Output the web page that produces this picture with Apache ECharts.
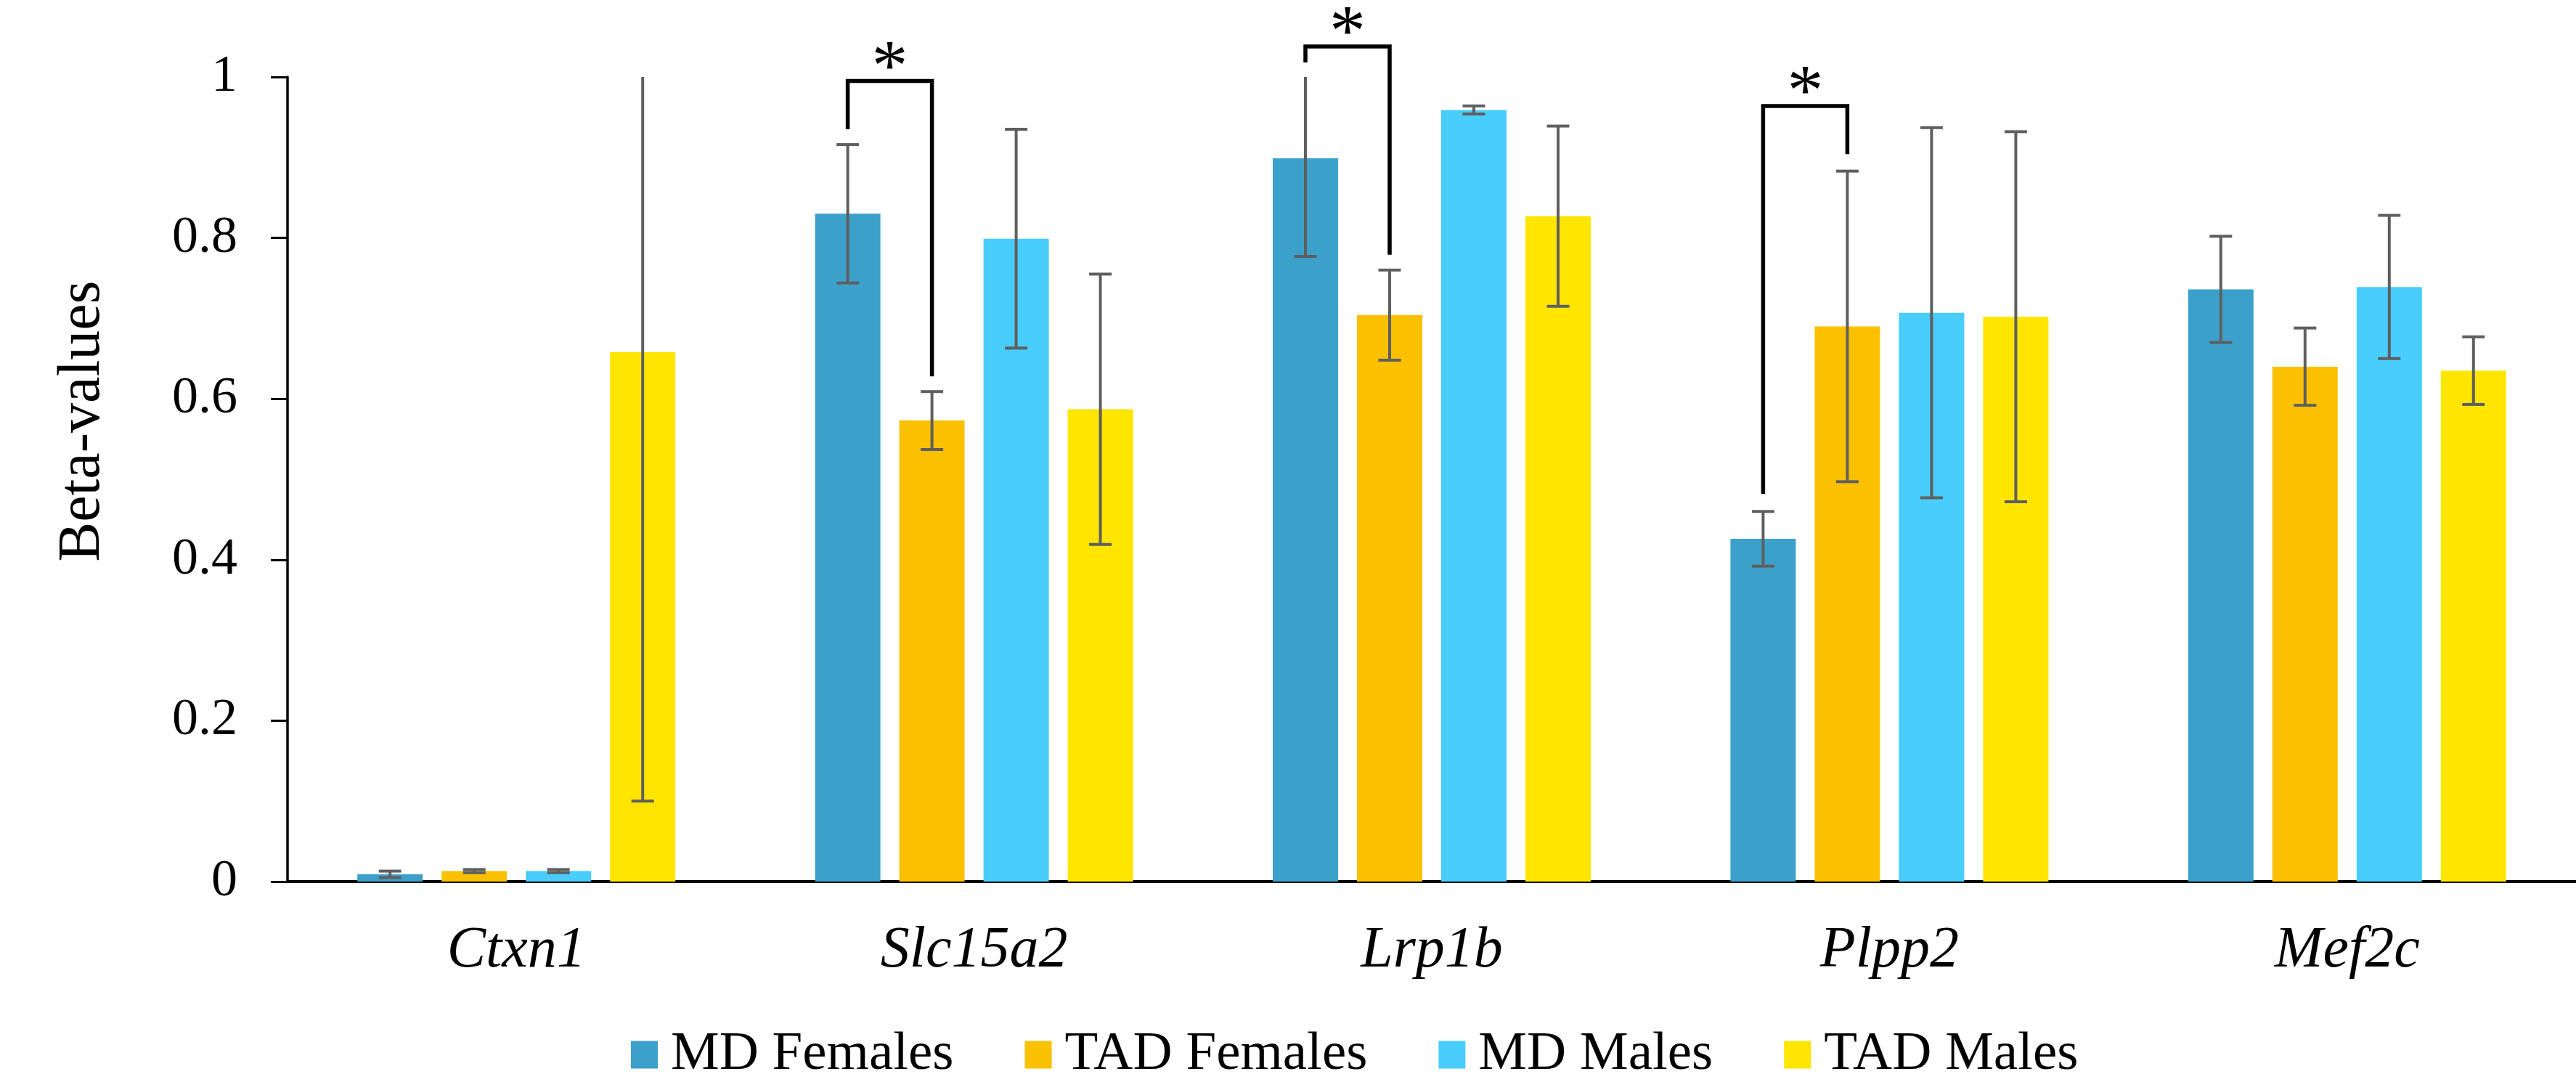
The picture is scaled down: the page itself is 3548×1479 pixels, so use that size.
<!DOCTYPE html>
<html>
<head>
<meta charset="utf-8">
<script src="https://cdn.jsdelivr.net/npm/echarts@6/dist/echarts.min.js"></script>
<style>
html,body{margin:0;padding:0;background:#fff;}
#chart{width:3548px;height:1479px;}
</style>
</head>
<body>
<div id="chart"></div>
<script>
// ---- data ----
const categories = ['Ctxn1', 'Slc15a2', 'Lrp1b', 'Plpp2', 'Mef2c'];
const seriesNames = ['MD Females', 'TAD Females', 'MD Males', 'TAD Males'];
const mdFemales   = [0.009, 0.830, 0.899, 0.426, 0.736];
const mdFemalesSD = [0.004, 0.086, 0.122, 0.034, 0.066];
const tadFemales   = [0.013, 0.573, 0.704, 0.690, 0.640];
const tadFemalesSD = [0.002, 0.036, 0.056, 0.193, 0.048];
const mdMales   = [0.013, 0.799, 0.959, 0.707, 0.739];
const mdMalesSD = [0.002, 0.136, 0.005, 0.230, 0.089];
const tadMales   = [0.658, 0.587, 0.827, 0.702, 0.635];
const tadMalesSD = [0.558, 0.168, 0.112, 0.230, 0.042];
const yTicks = [0, 0.2, 0.4, 0.6, 0.8, 1];

// significance brackets: category index, left/right series index, top level, left leg end, right leg end
const bracketCats       = [1, 2, 3];
const bracketLeftSeries = [0, 0, 0];
const bracketRightSeries= [1, 1, 1];
const bracketTop        = [0.995, 1.038, 0.964];
const bracketLeftEnd    = [0.935, 1.018, 0.482];
const bracketRightEnd   = [0.628, 0.779, 0.904];
const bracketMark       = ['*', '*', '*'];

// ---- style ----
const colors = ['#3BA1CB', '#FBC000', '#48CDFD', '#FFE500'];
const FONT = '"Liberation Serif", "Times New Roman", serif';
const BAR_W = 90, BAR_GAP = 26;
const Y_MAX = 1;

const means = [mdFemales, tadFemales, mdMales, tadMales];
const sds = [mdFemalesSD, tadFemalesSD, mdMalesSD, tadMalesSD];

function barOffset(si) {
  return (si - (means.length - 1) / 2) * (BAR_W + BAR_GAP);
}

const errData = [];
means.forEach((arr, si) => {
  arr.forEach((v, ci) => {
    errData.push([ci, si, v - sds[si][ci], v + sds[si][ci]]);
  });
});

const bracketData = bracketCats.map((c, i) => [c, bracketLeftSeries[i], bracketRightSeries[i], bracketTop[i], bracketLeftEnd[i], bracketRightEnd[i], i]);

const chart = echarts.init(document.getElementById('chart'), null, {renderer: 'canvas'});

const barSeries = seriesNames.map((name, si) => ({
  name: name,
  type: 'bar',
  data: means[si],
  barWidth: BAR_W,
  barGap: (BAR_GAP / BAR_W * 100).toFixed(2) + '%',
  itemStyle: {color: colors[si]},
  z: 2
}));

const option = {
  animation: false,
  backgroundColor: '#ffffff',
  color: colors,
  textStyle: {fontFamily: FONT, color: '#000'},
  grid: {left: 396, top: 106, width: 3183, height: 1108, containLabel: false},
  legend: {
    data: seriesNames,
    left: 864,
    top: 1410,
    icon: 'rect',
    itemWidth: 37,
    itemHeight: 38,
    itemGap: 98,
    textStyle: {fontFamily: FONT, fontSize: 75, color: '#000', padding: [0, 0, 0, 13]}
  },
  xAxis: {
    type: 'category',
    data: categories,
    axisLine: {show: true, lineStyle: {color: '#000', width: 4}},
    axisTick: {show: false},
    axisLabel: {fontFamily: FONT, fontStyle: 'italic', fontSize: 80, color: '#000', margin: 56},
    splitLine: {show: false}
  },
  yAxis: {
    type: 'value',
    min: yTicks[0],
    max: yTicks[yTicks.length - 1],
    interval: 0.2,
    axisLine: {show: true, lineStyle: {color: '#000', width: 3.5}},
    axisTick: {show: true, length: 23, lineStyle: {color: '#000', width: 3}},
    axisLabel: {fontFamily: FONT, fontSize: 72, color: '#000', margin: 69,
      formatter: v => String(Math.round(v * 10) / 10)},
    splitLine: {show: false}
  },
  graphic: [{
    type: 'text',
    x: 114, y: 580,
    rotation: Math.PI / 2,
    style: {text: 'Beta-values', fontFamily: FONT, fontSize: 82, fill: '#000', align: 'center', verticalAlign: 'middle'}
  }],
  series: barSeries.concat([
    {
      type: 'custom',
      name: 'errors',
      data: errData,
      z: 5,
      silent: true,
      renderItem: function (params, api) {
        const ci = api.value(0), si = api.value(1);
        const lo = api.value(2), hi = api.value(3);
        const x = api.coord([ci, 0])[0] + barOffset(si);
        const yLo = api.coord([ci, Math.max(lo, 0)])[1];
        const yHi = api.coord([ci, Math.min(hi, Y_MAX)])[1];
        const cap = 15.5;
        const st = {stroke: '#5F5F5F', lineWidth: 4};
        const children = [
          {type: 'line', shape: {x1: x, y1: yLo, x2: x, y2: yHi}, style: st}
        ];
        if (lo >= 0) children.push({type: 'line', shape: {x1: x - cap, y1: yLo, x2: x + cap, y2: yLo}, style: st});
        if (hi <= Y_MAX) children.push({type: 'line', shape: {x1: x - cap, y1: yHi, x2: x + cap, y2: yHi}, style: st});
        return {type: 'group', children: children};
      }
    },
    {
      type: 'custom',
      name: 'brackets',
      data: bracketData,
      z: 6,
      silent: true,
      clip: false,
      renderItem: function (params, api) {
        const ci = api.value(0);
        const xc = api.coord([ci, 0])[0];
        const xl = xc + barOffset(api.value(1));
        const xr = xc + barOffset(api.value(2));
        const yt = api.coord([ci, api.value(3)])[1];
        const yl = api.coord([ci, api.value(4)])[1];
        const yr = api.coord([ci, api.value(5)])[1];
        const idx = api.value(6);
        return {
          type: 'group',
          children: [
            {type: 'polyline', shape: {points: [[xl, yl], [xl, yt], [xr, yt], [xr, yr]]},
             style: {stroke: '#000', lineWidth: 5.5, fill: null, lineJoin: 'miter'}},
            {type: 'text', x: (xl + xr) / 2, y: yt - 15,
             style: {text: bracketMark[idx], fontFamily: FONT, fontSize: 100, fill: '#000', align: 'center', verticalAlign: 'middle'}}
          ]
        };
      }
    }
  ])
};
chart.setOption(option);
</script>
</body>
</html>
